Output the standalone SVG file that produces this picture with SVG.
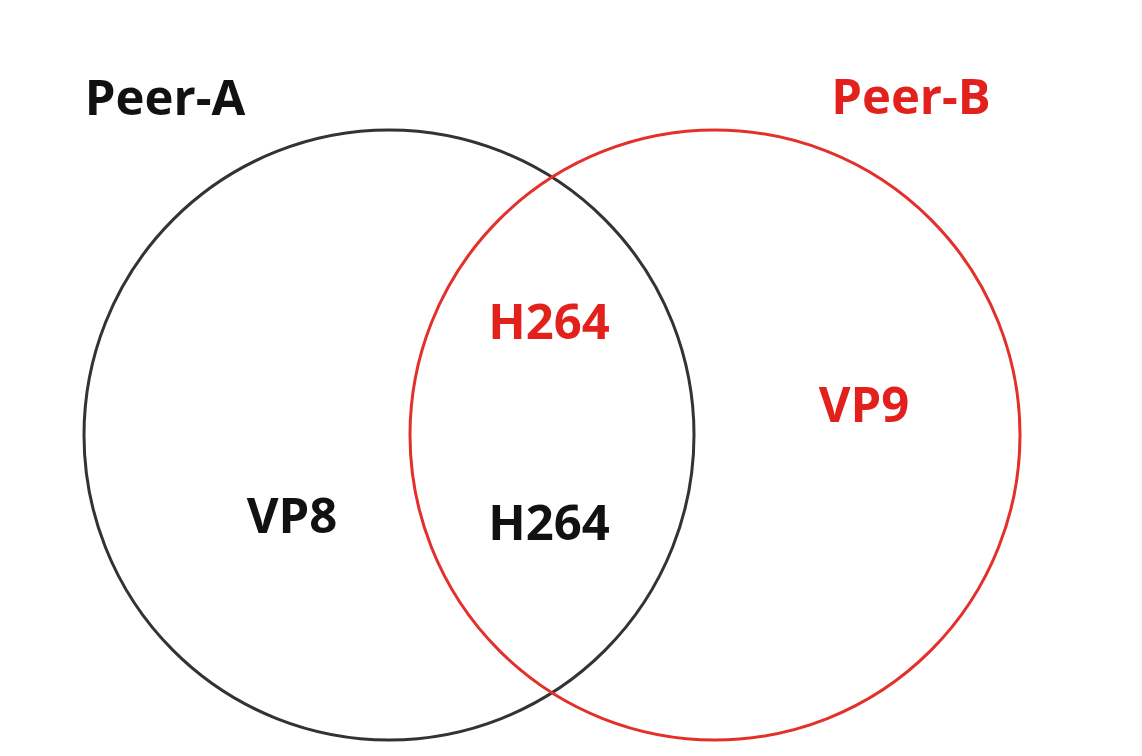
<svg xmlns="http://www.w3.org/2000/svg" width="1142" height="756" viewBox="0 0 1142 756">
  <style>
    .lbl { font-family: "Open Sans", "Liberation Sans", sans-serif; font-weight: bold; font-size: 49px; text-anchor: middle; }
    .blk { fill: #111111; }
    .red { fill: #e3211c; }
    .set { fill: none; stroke-width: 3; }
  </style>
  <rect width="1142" height="756" fill="#ffffff"/>
  <g id="peer-a">
    <circle class="set" cx="389" cy="435" r="305" stroke="#333333"/>
    <text class="lbl blk" x="165" y="115">Peer-A</text>
    <text class="lbl blk" x="292" y="533">VP8</text>
  </g>
  <g id="peer-b">
    <circle class="set" cx="715" cy="435" r="305" stroke="#e3302b"/>
    <text class="lbl red" x="911" y="114">Peer-B</text>
    <text class="lbl red" x="864" y="422">VP9</text>
  </g>
  <g id="intersection">
    <text class="lbl red" x="549" y="339">H264</text>
    <text class="lbl blk" x="549" y="540">H264</text>
  </g>
</svg>
